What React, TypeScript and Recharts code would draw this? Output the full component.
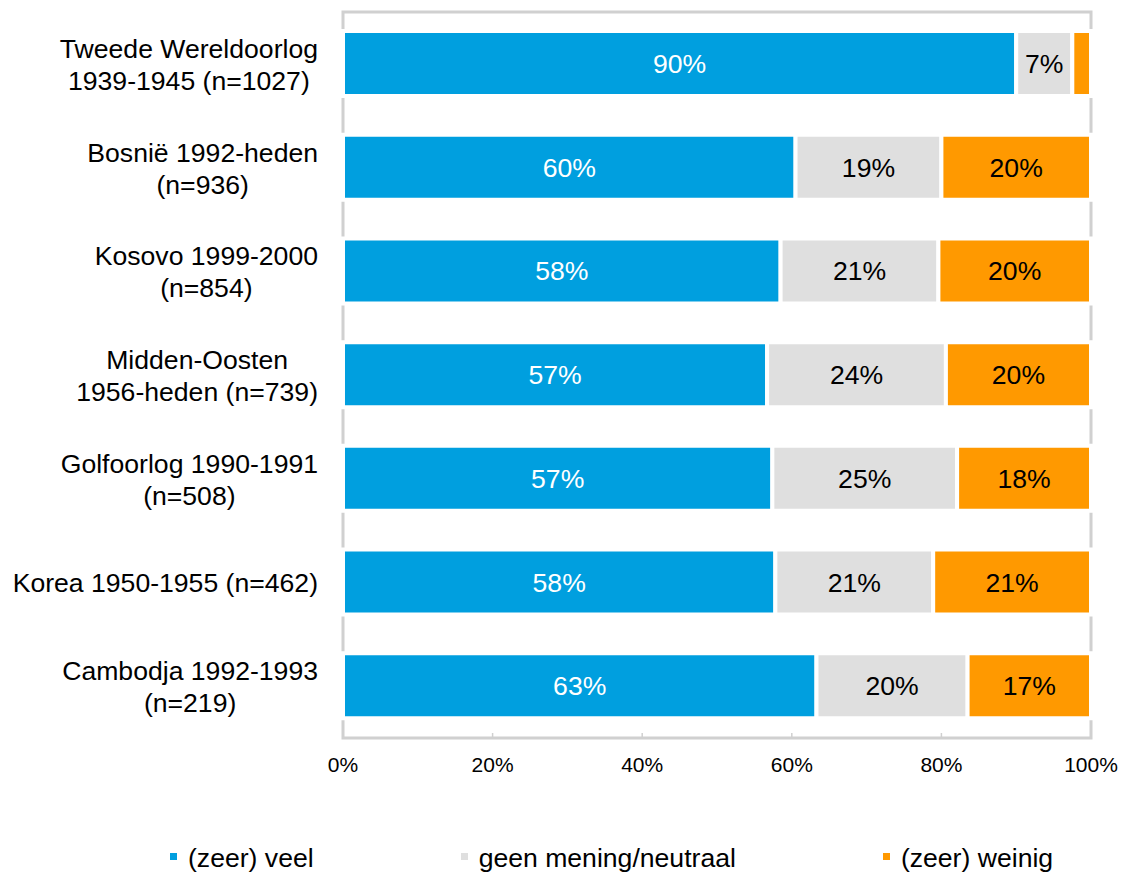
import React from 'react';
import { BarChart, Bar, XAxis, YAxis, LabelList, Legend, ReferenceArea } from 'recharts';

const FONT = '"Liberation Sans", Arial, Helvetica, sans-serif';

const categories = [
  'Tweede Wereldoorlog\n1939-1945 (n=1027)',
  'Bosnië 1992-heden\n(n=936)',
  'Kosovo 1999-2000\n(n=854)',
  'Midden-Oosten\n1956-heden (n=739)',
  'Golfoorlog 1990-1991\n(n=508)',
  'Korea 1950-1955 (n=462)',
  'Cambodja 1992-1993\n(n=219)',
];
const veel = [90.0, 60.5, 58.5, 56.7, 57.4, 57.8, 63.3];
const neutraal = [7.5, 19.5, 21.1, 23.9, 24.7, 21.1, 20.2];
const weinig = [2.5, 20.0, 20.4, 19.4, 17.9, 21.1, 16.5];
const veelLabels = ['90%', '60%', '58%', '57%', '57%', '58%', '63%'];
const neutraalLabels = ['7%', '19%', '21%', '24%', '25%', '21%', '20%'];
const weinigLabels = ['', '20%', '20%', '20%', '18%', '21%', '17%'];
const seriesNames = ['(zeer) veel', 'geen mening/neutraal', '(zeer) weinig'];
const xTicks = [0, 20, 40, 60, 80, 100];

const COLORS = ['#009FDF', '#DFDFDF', '#FF9900'];
const FRAME = '#D0D0D0';
const LABEL_SIZE = 26.6;

const data = categories.map((name, i) => ({
  name,
  veel: veel[i],
  neutraal: neutraal[i],
  weinig: weinig[i],
  veelLabel: veelLabels[i],
  neutraalLabel: neutraalLabels[i],
  weinigLabel: weinigLabels[i],
}));

let ctx: CanvasRenderingContext2D | null = null;
function measure(text: string, size: number): number {
  if (!ctx) {
    const c = document.createElement('canvas');
    ctx = c.getContext('2d');
  }
  if (!ctx) return text.length * size * 0.5;
  ctx.font = `${size}px ${FONT}`;
  return ctx.measureText(text).width;
}

function CategoryTick(props: any) {
  const { x, y, payload } = props;
  const lines = String(payload.value).split('\n');
  const block = Math.max(...lines.map((l) => measure(l, LABEL_SIZE)));
  const cx = x - block / 2;
  const lh = 32;
  const startY = y - ((lines.length - 1) * lh) / 2 + 1;
  return (
    <g>
      {lines.map((l, i) => (
        <text
          key={i}
          x={cx}
          y={startY + i * lh}
          textAnchor="middle"
          dominantBaseline="central"
          fontSize={LABEL_SIZE}
          fontFamily={FONT}
          fill="#000"
        >
          {l}
        </text>
      ))}
    </g>
  );
}

function LegendContent(props: any) {
  const payload = [...(props.payload || [])].sort(
    (a: any, b: any) => seriesNames.indexOf(a.value) - seriesNames.indexOf(b.value)
  );
  return (
    <div
      style={{
        display: 'flex',
        alignItems: 'center',
        height: 30,
        paddingLeft: 170,
        fontFamily: FONT,
        fontSize: LABEL_SIZE,
        color: '#000',
        whiteSpace: 'nowrap',
      }}
    >
      {payload.map((it: any, i: number) => (
        <div key={i} style={{ display: 'flex', alignItems: 'center', marginRight: 147 }}>
          <span
            style={{
              display: 'inline-block',
              width: 7,
              height: 7,
              background: it.color,
              marginRight: 11,
              marginTop: -3,
            }}
          />
          <span>{it.value}</span>
        </div>
      ))}
    </div>
  );
}

export default function App() {
  return (
    <div style={{ position: 'absolute', left: 0, top: 0, width: 1121, height: 873, background: '#fff' }}>
      <BarChart
        width={1121}
        height={873}
        data={data}
        layout="vertical"
        margin={{ top: 12, right: 30, bottom: 75, left: 0 }}
        barSize={65}
      >
        <XAxis
          type="number"
          domain={[0, 100]}
          ticks={xTicks}
          tickFormatter={(v: number) => `${v}%`}
          axisLine={false}
          tickLine={{ stroke: FRAME, strokeWidth: 1.5 }}
          tickSize={-5}
          tickMargin={24}
          height={30}
          tick={{ fontSize: 21, fontFamily: FONT, fill: '#000' }}
          interval={0}
        />
        <YAxis
          type="category"
          dataKey="name"
          width={343}
          axisLine={false}
          tickLine={false}
          tickSize={0}
          tickMargin={25}
          tick={<CategoryTick />}
          interval={0}
        />
        <ReferenceArea x1={0} x2={100} fill="none" fillOpacity={0} stroke={FRAME} strokeWidth={3} ifOverflow="visible" />
        <Bar dataKey="veel" name={seriesNames[0]} stackId="a" fill={COLORS[0]} stroke="#fff" strokeWidth={4} isAnimationActive={false}>
          <LabelList dataKey="veelLabel" position="center" fill="#fff" fontSize={LABEL_SIZE} fontFamily={FONT} />
        </Bar>
        <Bar dataKey="neutraal" name={seriesNames[1]} stackId="a" fill={COLORS[1]} stroke="#fff" strokeWidth={4} isAnimationActive={false}>
          <LabelList dataKey="neutraalLabel" position="center" fill="#000" fontSize={LABEL_SIZE} fontFamily={FONT} />
        </Bar>
        <Bar dataKey="weinig" name={seriesNames[2]} stackId="a" fill={COLORS[2]} stroke="#fff" strokeWidth={4} isAnimationActive={false}>
          <LabelList dataKey="weinigLabel" position="center" fill="#000" fontSize={LABEL_SIZE} fontFamily={FONT} />
        </Bar>
        <Legend
          verticalAlign="bottom"
          content={<LegendContent />}
          wrapperStyle={{ left: 0, bottom: 0, width: 1121, height: 30 }}
        />
      </BarChart>
    </div>
  );
}
